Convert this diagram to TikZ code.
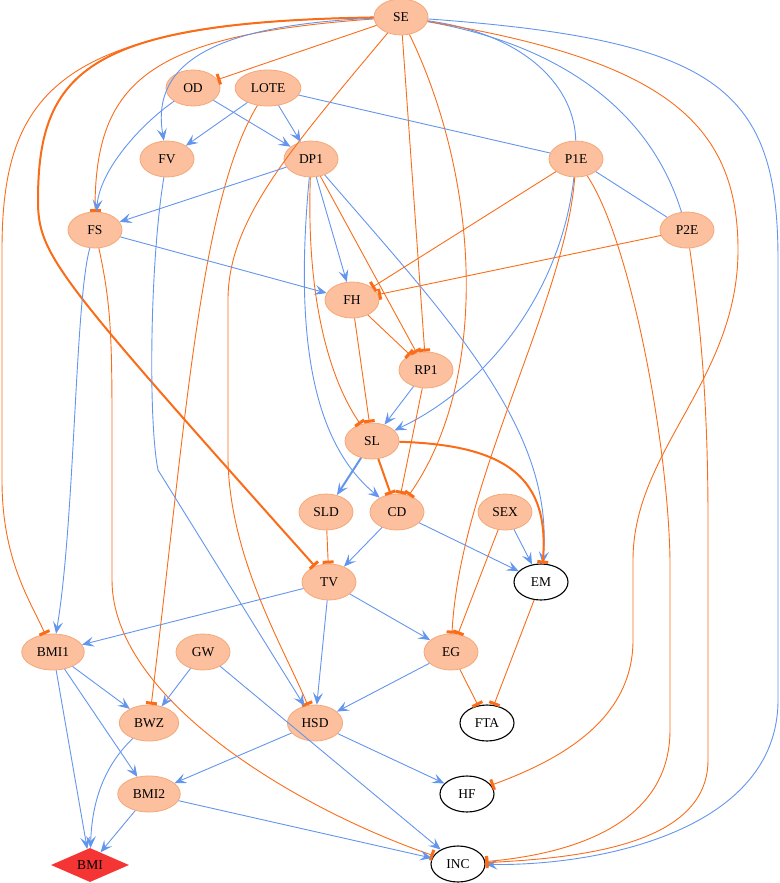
\documentclass[tikz,border=0pt]{standalone}
\usepackage{fontspec}
\setmainfont{Liberation Serif}
\usepackage{xcolor}
\usepackage{tikz}
\usetikzlibrary{shapes.geometric, arrows.meta}

\definecolor{ancfill}{RGB}{252,192,158}
\definecolor{ancdraw}{RGB}{244,168,120}
\definecolor{edgeblue}{RGB}{100,149,237}
\definecolor{edgeorange}{RGB}{250,108,24}
\definecolor{bmired}{RGB}{245,52,52}

\begin{document}
\begin{tikzpicture}[
    x=1pt, y=-1pt,
    anc/.style={
      ellipse, draw=ancdraw, fill=ancfill, line width=0.8pt,
      minimum width=54pt, minimum height=36pt,
      inner xsep=6pt, inner ysep=2pt,
      font=\fontsize{13.5}{16}\selectfont
    },
    res/.style={anc, draw=black, fill=white, line width=1.1pt},
    tgt/.style={
      diamond, fill=bmired, inner sep=0pt, aspect=2.3,
      minimum width=78pt, minimum height=34pt,
      font=\fontsize{13.5}{16}\selectfont
    },
    parr/.style={draw=edgeblue, line width=0.9pt,
      -{Stealth[length=12pt, width=10pt, inset=5pt]}},
    narr/.style={draw=edgeorange, line width=0.9pt,
      -{Bar[width=11pt, line width=3pt]}},
    plink/.style={draw=edgeblue, line width=0.9pt},
    heavy/.style={line width=2pt}
  ]
  \useasboundingbox (0,0) rectangle (779,883);

  \node[anc] (SE)   at (401,17)  {SE};
  \node[anc] (OD)   at (193,88)  {OD};
  \node[anc] (LOTE) at (268,88)  {LOTE};
  \node[anc] (FV)   at (167,159) {FV};
  \node[anc] (DP1)  at (311,159) {DP1};
  \node[anc] (P1E)  at (576,159) {P1E};
  \node[anc] (FS)   at (95,230)  {FS};
  \node[anc] (P2E)  at (687,230) {P2E};
  \node[anc] (FH)   at (352,300) {FH};
  \node[anc] (RP1)  at (426,370) {RP1};
  \node[anc] (SL)   at (372,441) {SL};
  \node[anc] (SLD)  at (326,512) {SLD};
  \node[anc] (CD)   at (397,512) {CD};
  \node[anc] (SEX)  at (505,512) {SEX};
  \node[anc] (TV)   at (329,582) {TV};
  \node[res] (EM)   at (541,582) {EM};
  \node[anc] (BMI1) at (53,652)  {BMI1};
  \node[anc] (GW)   at (203,652) {GW};
  \node[anc] (EG)   at (451,652) {EG};
  \node[anc] (BWZ)  at (149,723) {BWZ};
  \node[anc] (HSD)  at (315,723) {HSD};
  \node[res] (FTA)  at (487,723) {FTA};
  \node[anc] (BMI2) at (149,794) {BMI2};
  \node[res] (HF)   at (467,794) {HF};
  \node[tgt] (BMI)  at (90,865)  {BMI};
  \node[res] (INC)  at (458,864) {INC};

  \draw[narr] (SE) .. controls (60,22) and (2,90) .. (2,250) -- (2,480)
    .. controls (2,560) and (30,600) .. (BMI1);
  \draw[narr, heavy] (SE) .. controls (90,22) and (38,70) .. (38,200)
    .. controls (38,255) and (55,275) .. (TV);
  \draw[narr] (SE) .. controls (150,35) and (95,80) .. (FS);
  \draw[parr] (SE) .. controls (220,25) and (150,60) .. (FV);
  \draw[narr] (SE) -- (OD);
  \draw[narr] (SE) .. controls (290,150) and (228,220) .. (228,300) -- (228,460)
    .. controls (230,560) and (285,650) .. (HSD);
  \draw[narr] (SE) -- (RP1);
  \draw[narr] (SE) .. controls (480,180) and (490,380) .. (CD);
  \draw[plink] (SE) .. controls (530,35) and (575,90) .. (P1E);
  \draw[plink] (SE) .. controls (560,45) and (650,110) .. (P2E);
  \draw[narr] (SE) .. controls (660,60) and (738,120) .. (738,250)
    .. controls (738,380) and (633,450) .. (633,560) -- (633,640)
    .. controls (633,720) and (560,760) .. (HF);
  \draw[parr] (SE) .. controls (720,40) and (778,90) .. (778,260) -- (778,700)
    .. controls (778,830) and (600,866) .. (INC);

  \draw[parr] (OD) .. controls (140,125) and (100,170) .. (FS);
  \draw[parr] (OD) -- (DP1);
  \draw[parr] (LOTE) -- (FV);
  \draw[parr] (LOTE) -- (DP1);
  \draw[plink] (LOTE) -- (P1E);
  \draw[narr] (LOTE) .. controls (200,200) and (186,420) .. (BWZ);
  \draw[parr] (FV) .. controls (150,260) and (148,420) .. (158,470) -- (HSD);

  \draw[parr] (DP1) -- (FS);
  \draw[parr] (DP1) -- (FH);
  \draw[narr] (DP1) -- (RP1);
  \draw[narr] (DP1) .. controls (306,300) and (330,380) .. (SL);
  \draw[parr] (DP1) .. controls (295,330) and (310,440) .. (CD);
  \draw[parr] (DP1) .. controls (450,320) and (555,430) .. (EM);

  \draw[narr] (P1E) -- (FH);
  \draw[parr] (P1E) .. controls (560,300) and (480,390) .. (SL);
  \draw[narr] (P1E) .. controls (566,300) and (460,480) .. (EG);
  \draw[narr] (P1E) .. controls (630,240) and (668,440) .. (670,560) -- (670,730)
    .. controls (670,830) and (560,855) .. (INC);
  \draw[plink] (P1E) -- (P2E);
  \draw[narr] (P2E) -- (FH);
  \draw[narr] (P2E) .. controls (700,320) and (708,400) .. (708,520) -- (708,760)
    .. controls (708,845) and (580,858) .. (INC);

  \draw[parr] (FS) -- (FH);
  \draw[parr] (FS) .. controls (75,300) and (75,520) .. (BMI1);
  \draw[narr] (FS) .. controls (110,300) and (112,330) .. (112,420) -- (112,580)
    .. controls (112,700) and (300,810) .. (INC);

  \draw[narr] (FH) -- (RP1);
  \draw[narr] (FH) -- (SL);
  \draw[parr] (RP1) -- (SL);
  \draw[narr] (RP1) -- (CD);

  \draw[parr, heavy] (SL) -- (SLD);
  \draw[narr, heavy] (SL) -- (CD);
  \draw[narr, heavy] (SL) .. controls (510,445) and (550,480) .. (EM);

  \draw[narr] (SLD) -- (TV);
  \draw[parr] (CD) -- (TV);
  \draw[parr] (CD) -- (EM);
  \draw[parr] (SEX) -- (EM);
  \draw[narr] (SEX) -- (EG);
  \draw[parr] (TV) -- (BMI1);
  \draw[parr] (TV) -- (HSD);
  \draw[parr] (TV) -- (EG);
  \draw[narr] (EM) -- (FTA);
  \draw[narr] (EG) -- (FTA);
  \draw[parr] (EG) -- (HSD);

  \draw[parr] (BMI1) -- (BWZ);
  \draw[parr] (BMI1) -- (BMI2);
  \draw[parr] (BMI1) -- (BMI);
  \draw[parr] (GW) -- (BWZ);
  \draw[parr] (GW) -- (INC);
  \draw[parr] (BWZ) .. controls (105,765) and (92,800) .. (BMI);
  \draw[parr] (HSD) -- (BMI2);
  \draw[parr] (HSD) -- (HF);
  \draw[parr] (BMI2) -- (BMI);
  \draw[parr] (BMI2) -- (INC);
\end{tikzpicture}
\end{document}
